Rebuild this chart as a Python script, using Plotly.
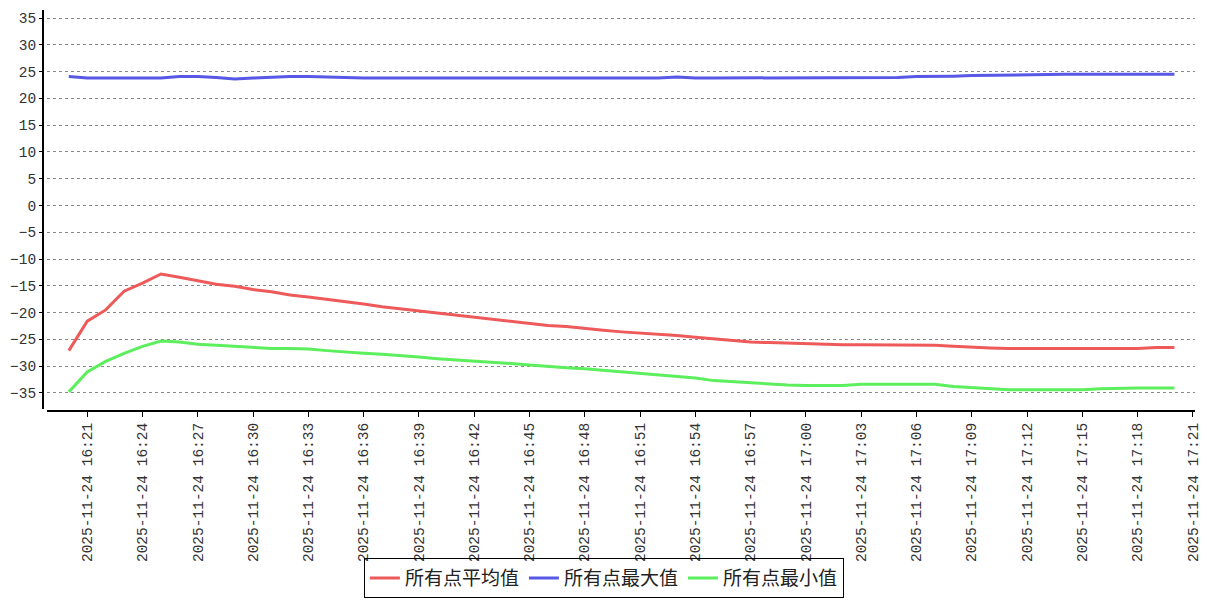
import pandas as pd
import plotly.graph_objects as go

# one sample per minute, 16:20 -> 17:20
times = pd.date_range("2025-11-24 16:20", "2025-11-24 17:20", freq="1min")

avg_values = [
    -27.1, -21.6, -19.5, -16.0, -14.5, -12.8, -13.4, -14.1, -14.7, -15.1,
    -15.7, -16.1, -16.7, -17.1, -17.5, -18.0, -18.4, -18.9, -19.3, -19.7,
    -20.1, -20.5, -20.9, -21.3, -21.7, -22.1, -22.4, -22.6, -23.0, -23.3,
    -23.6, -23.8, -24.1, -24.3, -24.6, -24.9, -25.3, -25.5, -25.6, -25.7,
    -25.9, -26.0, -26.0, -26.0, -26.0, -26.0, -26.0, -26.1, -26.3, -26.5,
    -26.6, -26.7, -26.7, -26.7, -26.7, -26.7, -26.7, -26.7, -26.7, -26.5,
    -26.5,
]
max_values = [
    24.1, 23.8, 23.8, 23.8, 23.8, 23.8, 24.1, 24.1, 23.9, 23.6,
    23.8, 24.0, 24.1, 24.1, 24.0, 23.8, 23.8, 23.8, 23.8, 23.8,
    23.8, 23.8, 23.8, 23.8, 23.8, 23.8, 23.8, 23.8, 23.8, 23.8,
    23.8, 23.8, 23.8, 24.0, 23.8, 23.8, 23.8, 23.8, 23.8, 23.8,
    23.8, 23.8, 23.8, 23.8, 23.8, 23.9, 24.1, 24.1, 24.15, 24.25,
    24.3, 24.4, 24.5, 24.5, 24.5, 24.5, 24.5, 24.5, 24.5, 24.5,
    24.5,
]
min_values = [
    -34.8, -31.1, -29.1, -27.6, -26.3, -25.3, -25.5, -25.9, -26.1, -26.3,
    -26.5, -26.7, -26.7, -26.8, -27.1, -27.4, -27.6, -27.8, -28.0, -28.3,
    -28.6, -28.8, -29.0, -29.3, -29.5, -29.8, -30.1, -30.3, -30.5, -30.8,
    -31.0, -31.3, -31.6, -31.9, -32.2, -32.7, -32.9, -33.2, -33.4, -33.5,
    -33.6, -33.6, -33.6, -33.4, -33.4, -33.4, -33.4, -33.4, -33.8, -34.0,
    -34.2, -34.4, -34.4, -34.4, -34.4, -34.4, -34.2, -34.1, -34.1, -34.1,
    -34.1,
]

series = [
    ("所有点平均值", avg_values, "#ee5a5a"),
    ("所有点最大值", max_values, "#5858e6"),
    ("所有点最小值", min_values, "#5cee5c"),
]

fig = go.Figure()
for name, values, color in series:
    fig.add_trace(
        go.Scatter(
            x=times,
            y=values,
            mode="lines",
            name=name,
            line=dict(color=color, width=3),
        )
    )

tick_font = dict(family="Liberation Mono", size=14.5, color="#333333")

fig.update_xaxes(
    range=["2025-11-24 16:18:49", "2025-11-24 17:21:07"],
    domain=[0.0035, 1],
    anchor="free",
    position=0,
    tick0="2025-11-24 16:21",
    dtick=180000,
    tickformat="%Y-%m-%d %H:%M",
    tickangle=-90,
    tickfont=tick_font,
    ticks="outside",
    ticklen=5,
    tickcolor="black",
    showline=True,
    linecolor="black",
    linewidth=2,
    showgrid=False,
    zeroline=False,
    automargin=False,
)

fig.update_yaxes(
    range=[-38, 36.5],
    domain=[0.005, 1],
    anchor="free",
    position=0,
    dtick=5,
    tickfont=tick_font,
    ticks="outside",
    ticklen=3,
    tickcolor="black",
    showline=True,
    linecolor="black",
    linewidth=2,
    showgrid=True,
    gridcolor="#888888",
    griddash="dot",
    gridwidth=1,
    zeroline=False,
    automargin=False,
)

# the page body adds an 8px offset, so the figure is sized to fit the window
fig.update_layout(
    width=1199,
    height=592,
    margin=dict(l=35, r=12, t=2, b=189),
    plot_bgcolor="white",
    paper_bgcolor="white",
    showlegend=True,
    legend=dict(
        orientation="h",
        xref="container",
        yref="container",
        x=0.497,
        xanchor="center",
        y=0.003,
        yanchor="bottom",
        font=dict(family="Noto Sans CJK SC", size=19, color="#222222"),
        bordercolor="black",
        borderwidth=1,
        bgcolor="rgba(255,255,255,0)",
        itemwidth=30,
        tracegroupgap=0,
    ),
)

fig.write_html("out.html")
